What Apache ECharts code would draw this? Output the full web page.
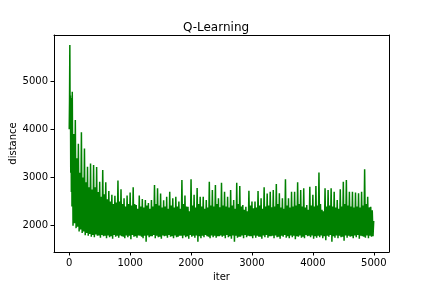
<!DOCTYPE html>
<html>
<head>
<meta charset="utf-8">
<script src="https://cdn.jsdelivr.net/npm/echarts@6/dist/echarts.min.js"></script>
<style>
html,body{margin:0;padding:0;background:#fff;}
#chart{width:432px;height:288px;}
</style>
</head>
<body>
<div id="chart"></div>
<script>
// Early iterations (every 5 iterations, 0..45)
const earlyValues = [4000, 4600, 5750, 4050, 4700, 3100, 4500, 2700, 4650, 2400];
// Per-50-iteration bins starting at iteration 50: spike peak, trough, body top, second trough
const binHighs = [
  4780, 4190, 3700, 3940, 3600, 3225, 3290, 3260, 3220, 2910,
  3155, 2900, 2720, 2640, 2620, 2935, 2755, 2570, 2625, 2690,
  2796, 2430, 2625, 2555, 2533, 2470, 2533, 2844, 2775, 2670,
  2530, 2600, 2706, 2570, 2600, 2500, 2948, 2625, 2395, 2962,
  2640, 2780, 2600, 2600, 2533, 2913, 2741, 2844, 2570, 2893,
  2706, 2600, 2741, 2533, 2893, 2824, 2430, 2395, 2727, 2500,
  2500, 2720, 2570, 2796, 2670, 2706, 2741, 2865, 2672, 2570,
  2962, 2570, 2706, 2706, 2900, 2741, 2775, 2430, 2810, 2640,
  2824, 3101, 2330, 2775, 2741, 2775, 2706, 2533, 2755, 2913,
  2948, 2706, 2706, 2690, 2672, 2706, 3170, 2600, 2395
];
const binLows = [
  2000, 1950, 1880, 1850, 1800, 1790, 1770, 1760, 1790, 1750,
  1780, 1740, 1760, 1730, 1770, 1750, 1780, 1740, 1760, 1720,
  1770, 1750, 1790, 1740, 1670, 1760, 1780, 1740, 1760, 1730,
  1780, 1750, 1770, 1740, 1760, 1790, 1740, 1760, 1730, 1770,
  1750, 1670, 1740, 1760, 1780, 1740, 1760, 1750, 1780, 1770,
  1740, 1760, 1730, 1670, 1750, 1770, 1740, 1760, 1780, 1740,
  1750, 1770, 1730, 1760, 1750, 1780, 1740, 1760, 1730, 1770,
  1750, 1740, 1760, 1720, 1770, 1750, 1740, 1780, 1760, 1730,
  1750, 1760, 1740, 1700, 1770, 1670, 1750, 1740, 1760, 1690,
  1750, 1770, 1740, 1760, 1730, 1780, 1750, 1740, 1770
];
const binMids = [
  3900, 3400, 3100, 3000, 2900, 2800, 2750, 2800, 2700, 2600,
  2650, 2550, 2500, 2450, 2480, 2500, 2450, 2400, 2450, 2420,
  2450, 2350, 2400, 2380, 2420, 2350, 2400, 2450, 2420, 2380,
  2400, 2350, 2420, 2380, 2400, 2350, 2450, 2400, 2300, 2420,
  2380, 2450, 2400, 2350, 2380, 2420, 2400, 2450, 2380, 2420,
  2400, 2380, 2420, 2350, 2450, 2400, 2330, 2300, 2420, 2360,
  2380, 2420, 2350, 2400, 2420, 2380, 2400, 2450, 2380, 2350,
  2420, 2380, 2400, 2420, 2450, 2400, 2380, 2330, 2420, 2400,
  2420, 2450, 2300, 2400, 2420, 2400, 2380, 2350, 2400, 2450,
  2420, 2400, 2380, 2400, 2380, 2420, 2450, 2380, 2320
];
const binLows2 = [
  2050, 1980, 1920, 1880, 1850, 1830, 1810, 1820, 1800, 1810,
  1790, 1800, 1780, 1810, 1790, 1800, 1770, 1800, 1790, 1810,
  1780, 1800, 1770, 1790, 1800, 1780, 1810, 1790, 1770, 1800,
  1790, 1810, 1780, 1800, 1770, 1790, 1800, 1780, 1810, 1790,
  1800, 1780, 1790, 1810, 1770, 1800, 1790, 1780, 1800, 1790,
  1810, 1780, 1800, 1790, 1770, 1800, 1810, 1790, 1780, 1800,
  1790, 1770, 1800, 1810, 1780, 1790, 1800, 1770, 1790, 1810,
  1780, 1800, 1790, 1780, 1800, 1770, 1810, 1790, 1800, 1780,
  1790, 1800, 1780, 1790, 1810, 1780, 1800, 1790, 1770, 1800,
  1790, 1780, 1800, 1810, 1790, 1770, 1800, 1790, 1780
];
const lastValue = 2100;
const xTicks = [0, 1000, 2000, 3000, 4000, 5000];
const yTicks = [2000, 3000, 4000, 5000];

const data = [];
earlyValues.forEach((v, i) => data.push([i * 5, v]));
for (let k = 0; k < binHighs.length; k++) {
  const start = (k + 1) * 50;
  data.push([start, binHighs[k]]);
  data.push([start + 12.5, binLows[k]]);
  data.push([start + 25, binMids[k]]);
  data.push([start + 37.5, binLows2[k]]);
}
data.push([4999, lastValue]);

const font = 'DejaVu Sans';
const plain = v => String(v);
const X_MIN = -250, X_MAX = 5250, Y_MIN = 1455, Y_MAX = 5955;
const spine = {show: true, onZero: false, lineStyle: {color: '#000', width: 1}};
const chart = echarts.init(document.getElementById('chart'), null, {renderer: 'canvas'});
chart.setOption({
  animation: false,
  backgroundColor: '#fff',
  title: {
    text: 'Q-Learning', left: 'center', top: 17,
    textStyle: {fontFamily: font, fontSize: 12, fontWeight: 'normal', color: '#000'}
  },
  grid: {left: 54, right: 43, top: 35, bottom: 36, containLabel: false, outerBoundsMode: 'none'},
  xAxis: [{
    type: 'value', min: X_MIN, max: X_MAX, position: 'bottom',
    name: 'iter', nameLocation: 'middle', nameGap: 20, nameMoveOverlap: false,
    nameTextStyle: {fontFamily: font, fontSize: 10, color: '#000'},
    axisLine: spine,
    axisTick: {show: true, inside: false, length: 3.5, customValues: xTicks, lineStyle: {color: '#000'}},
    axisLabel: {customValues: xTicks, formatter: plain, fontFamily: font, fontSize: 10, color: '#000', margin: 6},
    splitLine: {show: false}
  }, {
    type: 'value', min: X_MIN, max: X_MAX, position: 'top',
    axisLine: spine, axisTick: {show: false}, axisLabel: {show: false}, splitLine: {show: false}
  }],
  yAxis: [{
    type: 'value', min: Y_MIN, max: Y_MAX, position: 'left',
    name: 'distance', nameLocation: 'middle', nameGap: 36, nameMoveOverlap: false,
    nameTextStyle: {fontFamily: font, fontSize: 10, color: '#000'},
    axisLine: spine,
    axisTick: {show: true, inside: false, length: 3.5, customValues: yTicks, lineStyle: {color: '#000'}},
    axisLabel: {customValues: yTicks, formatter: plain, fontFamily: font, fontSize: 10, color: '#000', margin: 6},
    splitLine: {show: false}
  }, {
    type: 'value', min: Y_MIN, max: Y_MAX, position: 'right',
    axisLine: spine, axisTick: {show: false}, axisLabel: {show: false}, splitLine: {show: false}
  }],
  series: [{
    type: 'line', data: data, showSymbol: false, sampling: 'none',
    xAxisIndex: 0, yAxisIndex: 0,
    lineStyle: {color: '#008000', width: 1.5},
    itemStyle: {color: '#008000'}
  }]
});
</script>
</body>
</html>
